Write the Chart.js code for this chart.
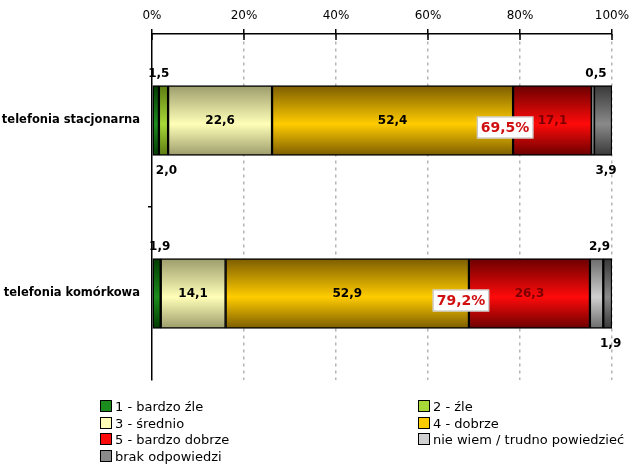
<!DOCTYPE html>
<html>
<head>
<meta charset="utf-8">
<script src="https://cdn.jsdelivr.net/npm/chart.js@4/dist/chart.umd.min.js"></script>
<style>
    body { margin: 0; background: #fff; }
    #wrap { position: relative; width: 640px; height: 467px; }
    #legend { position: absolute; left: 0; top: 0; font-family: 'DejaVu Sans', sans-serif; font-size: 13px; color: #000; }
    .item { position: absolute; white-space: nowrap; line-height: 13px; }
    .box { display: inline-block; width: 10px; height: 10px; border: 1px solid #000; margin-right: 3px; vertical-align: -1px; }
</style>
</head>
<body>
<div id="wrap">
    <canvas id="chart" width="640" height="467"></canvas>
    <div id="legend"></div>
</div>
<script>
// Categories and series (percent of answers)
const categories = ['telefonia stacjonarna', 'telefonia komórkowa'];
const seriesNames = ['1 - bardzo źle', '2 - źle', '3 - średnio', '4 - dobrze', '5 - bardzo dobrze', 'nie wiem / trudno powiedzieć', 'brak odpowiedzi'];
const bardzoZle = [1.5, 1.9];
const zle = [2.0, 0];
const srednio = [22.6, 14.1];
const dobrze = [52.4, 52.9];
const bardzoDobrze = [17.1, 26.3];
const nieWiem = [0.5, 2.9];
const brak = [3.9, 1.9];
const sumLabels = ['69,5%', '79,2%'];
const xTicks = [0, 20, 40, 60, 80, 100];

const seriesValues = [bardzoZle, zle, srednio, dobrze, bardzoDobrze, nieWiem, brak];

// colours: [edge, middle] of the vertical gradient
const palette = [
    ['#003a00', '#1c8c1c'],
    ['#5c7a10', '#a8d838'],
    ['#9c9c6c', '#ffffb8'],
    ['#7c5c00', '#ffcc00'],
    ['#6a0000', '#ff0a0a'],
    ['#6c6c6c', '#d0d0d0'],
    ['#383838', '#8a8a8a']
];
const labelColors = ['#000', '#000', '#000', '#000', '#7a0000', '#000', '#000'];
// where each value label goes: in / above / below
const labelPlace = [
    ['above', 'above'],
    ['below', 'below'],
    ['in', 'in'],
    ['in', 'in'],
    ['in', 'in'],
    ['above', 'above'],
    ['below', 'below']
];

const BAR = 70;
const FONT = "'DejaVu Sans', sans-serif";

function fmt(v) {
    return v.toFixed(1).replace('.', ',');
}

function gradientFor(i) {
    return (ctx) => {
        const chart = ctx.chart;
        if (!chart.chartArea || ctx.type !== 'data') return palette[i][1];
        const yc = chart.scales.y.getPixelForValue(ctx.dataIndex);
        const g = chart.ctx.createLinearGradient(0, yc - BAR / 2, 0, yc + BAR / 2);
        g.addColorStop(0, palette[i][0]);
        g.addColorStop(0.55, palette[i][1]);
        g.addColorStop(1, palette[i][0]);
        return g;
    };
}

const valueLabels = {
    id: 'valueLabels',
    afterDatasetsDraw(chart) {
        const c = chart.ctx;
        c.save();
        c.font = 'bold 12px ' + FONT;
        c.textAlign = 'center';
        c.textBaseline = 'middle';
        chart.data.datasets.forEach((ds, i) => {
            const meta = chart.getDatasetMeta(i);
            meta.data.forEach((bar, j) => {
                const v = ds.data[j];
                if (!v) return;
                const cx = (bar.x + bar.base) / 2;
                let cy = bar.y;
                const place = labelPlace[i][j];
                if (place === 'above') cy = bar.y - BAR / 2 - 12;
                if (place === 'below') cy = bar.y + BAR / 2 + 15;
                c.fillStyle = place === 'in' ? labelColors[i] : '#000';
                c.fillText(fmt(v), cx + (place === 'in' ? 0 : 3), cy);
            });
        });

        // share of good answers (4 + 5)
        const meta4 = chart.getDatasetMeta(3);
        c.font = 'bold 14px ' + FONT;
        meta4.data.forEach((bar, j) => {
            const text = sumLabels[j];
            const w = c.measureText(text).width + 8;
            const h = 22;
            const cx = bar.x - 8;
            const cy = bar.y + 7;
            c.fillStyle = '#fff';
            c.fillRect(cx - w / 2, cy - h / 2, w, h);
            c.strokeStyle = '#bbb';
            c.lineWidth = 1;
            c.strokeRect(cx - w / 2 + 0.5, cy - h / 2 + 0.5, w - 1, h - 1);
            c.fillStyle = '#d01010';
            c.fillText(text, cx, cy + 1);
        });

        // tick marks crossing the top axis line
        const x = chart.scales.x;
        c.strokeStyle = '#000';
        c.lineWidth = 1.5;
        c.beginPath();
        x.ticks.forEach(t => {
            const px = x.getPixelForValue(t.value);
            c.moveTo(px, x.bottom);
            c.lineTo(px, x.bottom + 6);
        });
        c.stroke();
        c.restore();
    }
};

const chart = new Chart(document.getElementById('chart'), {
    type: 'bar',
    data: {
        labels: categories,
        datasets: seriesNames.map((name, i) => ({
            label: name,
            data: seriesValues[i],
            backgroundColor: gradientFor(i),
            borderColor: '#000',
            borderWidth: 1.5,
            borderSkipped: false,
            barThickness: BAR
        }))
    },
    options: {
        indexAxis: 'y',
        responsive: false,
        animation: false,
        layout: { padding: { left: 0, right: 28, top: 0, bottom: 87 } },
        plugins: {
            legend: { display: false },
            tooltip: { enabled: false }
        },
        scales: {
            x: {
                position: 'top',
                stacked: true,
                min: 0,
                max: 100,
                afterBuildTicks: (scale) => {
                    scale.ticks = xTicks.map(v => ({ value: v }));
                },
                afterFit: (scale) => { scale.height = 34; },
                border: { display: true, color: '#000', width: 1.5, dash: [3, 4] },
                grid: {
                    color: (ctx) => (ctx.tick && ctx.tick.value === 0) ? 'rgba(0,0,0,0)' : '#b4b4b4',
                    lineWidth: 1.5,
                    tickColor: '#000',
                    tickBorderDash: [],
                    tickLength: 5
                },
                ticks: {
                    padding: 6,
                    color: '#000',
                    font: { family: FONT, size: 12 },
                    callback: (v) => v + '%'
                }
            },
            y: {
                stacked: true,
                afterFit: (scale) => { scale.width = 152; },
                border: { display: true, color: '#000', width: 1.5 },
                grid: {
                    drawOnChartArea: false,
                    color: '#000',
                    tickColor: (ctx) => ctx.index === 1 ? '#000' : 'rgba(0,0,0,0)',
                    tickLength: 4,
                    lineWidth: 1.5
                },
                ticks: {
                    padding: 8,
                    color: '#000',
                    font: { family: FONT, size: 11.5, weight: 'bold' }
                }
            }
        }
    },
    plugins: [valueLabels]
});

// Legend in two columns under the chart
const legendCols = [100, 418];
const legendRows = [400, 417, 433, 450];
const legend = document.getElementById('legend');
seriesNames.forEach((name, i) => {
    const item = document.createElement('div');
    item.className = 'item';
    item.style.left = legendCols[i % 2] + 'px';
    item.style.top = legendRows[Math.floor(i / 2)] + 'px';
    const box = document.createElement('span');
    box.className = 'box';
    box.style.background = palette[i][1];
    item.appendChild(box);
    item.appendChild(document.createTextNode(name));
    legend.appendChild(item);
});
</script>
</body>
</html>
